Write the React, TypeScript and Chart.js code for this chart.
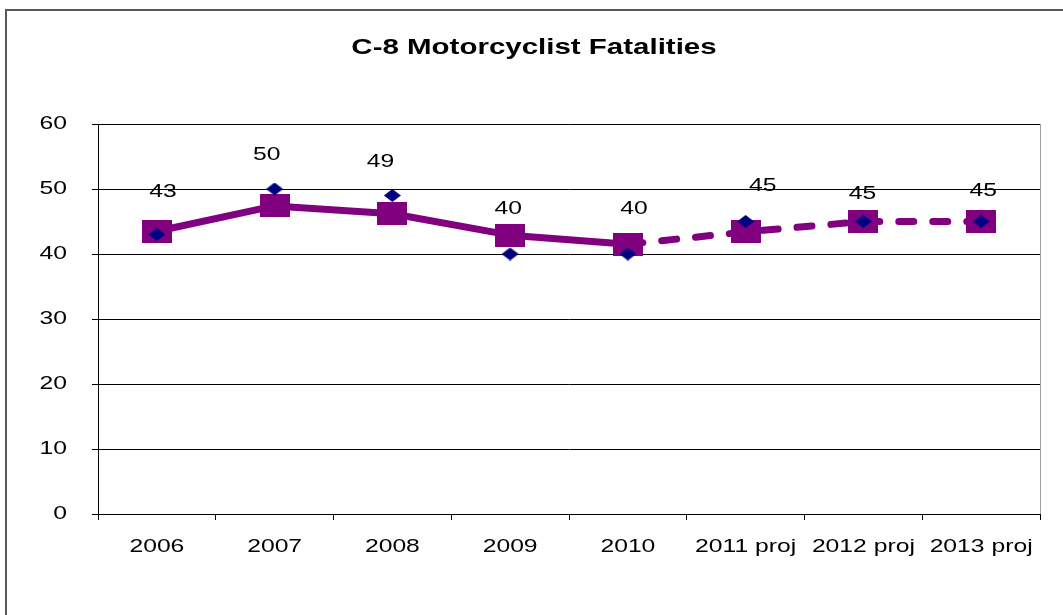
import React, { useEffect, useRef } from "react";
import { Chart, registerables } from "chart.js";

Chart.register(...registerables);

const TITLE = "C-8 Motorcyclist Fatalities";
const categories = ["2006", "2007", "2008", "2009", "2010", "2011 proj", "2012 proj", "2013 proj"];
const fatalities = [43, 50, 49, 40, 40, 45, 45, 45];
const averageLine = [43.5, 47.4, 46.2, 42.9, 41.5, 43.4, 45, 45];
const yTicks = [0, 10, 20, 30, 40, 50, 60];
const projectionStartIndex = 4; // segments starting at this index are dashed

// label nudges (style only): [dx, dy] in px from the diamond
const labelNudges: [number, number][] = [
  [6, -43], [-8, -34], [-12, -34], [-2, -45], [6, -45], [17, -36], [-1, -28], [2, -31],
];

const FONT_FAMILY = "'Liberation Sans', Arial, sans-serif";
const SX = 1.3;

function makeRect(w: number, h: number, color: string) {
  const c = document.createElement("canvas");
  c.width = w;
  c.height = h;
  const g = c.getContext("2d")!;
  g.fillStyle = color;
  g.fillRect(0, 0, w, h);
  return c;
}

function makeDiamond(w: number, h: number, color: string) {
  const c = document.createElement("canvas");
  c.width = w;
  c.height = h;
  const g = c.getContext("2d")!;
  g.fillStyle = color;
  g.beginPath();
  g.moveTo(w / 2, 0);
  g.lineTo(w, h / 2);
  g.lineTo(w / 2, h);
  g.lineTo(0, h / 2);
  g.closePath();
  g.fill();
  return c;
}

function drawStretched(
  ctx: CanvasRenderingContext2D,
  text: string,
  x: number,
  y: number,
  font: string,
  align: CanvasTextAlign,
  sx: number
) {
  ctx.save();
  ctx.translate(x, y);
  ctx.scale(sx, 1);
  ctx.font = font;
  ctx.fillStyle = "#000";
  ctx.textAlign = align;
  ctx.textBaseline = "middle";
  ctx.fillText(text, 0, 0);
  ctx.restore();
}

const textPlugin = {
  id: "excelText",
  afterDraw(chart: any) {
    const ctx: CanvasRenderingContext2D = chart.ctx;
    const area = chart.chartArea;
    const xs = chart.scales.x;
    const ys = chart.scales.y;
    const tickFont = `19px ${FONT_FAMILY}`;

    // plot area right border
    ctx.save();
    ctx.strokeStyle = "#a0a0a0";
    ctx.lineWidth = 1;
    ctx.beginPath();
    ctx.moveTo(Math.round(area.right) + 0.5, area.top);
    ctx.lineTo(Math.round(area.right) + 0.5, area.bottom);
    ctx.stroke();
    ctx.restore();

    // title
    drawStretched(ctx, TITLE, 534, 48, `bold 22px ${FONT_FAMILY}`, "center", 1.34);

    // x tick labels
    categories.forEach((lab, i) => {
      drawStretched(ctx, lab, xs.getPixelForValue(i), area.bottom + 33, tickFont, "center", SX);
    });

    // y tick labels
    yTicks.forEach((v) => {
      drawStretched(ctx, String(v), area.left - 31, ys.getPixelForValue(v), tickFont, "right", SX);
    });

    // data labels
    const meta = chart.getDatasetMeta(1);
    meta.data.forEach((el: any, i: number) => {
      const [dx, dy] = labelNudges[i] || [0, -36];
      drawStretched(ctx, String(fatalities[i]), el.x + dx, el.y + dy, tickFont, "center", SX);
    });
  },
};

export default function App() {
  const ref = useRef<HTMLCanvasElement | null>(null);

  useEffect(() => {
    if (!ref.current) return;
    const square = makeRect(30, 23, "#800080");
    const diamond = makeDiamond(17, 13, "#000080");

    const chart = new Chart(ref.current, {
      type: "line",
      data: {
        labels: categories,
        datasets: [
          {
            label: "Average",
            data: averageLine,
            borderColor: "#800080",
            backgroundColor: "#800080",
            borderWidth: 7,
            borderCapStyle: "round",
            borderJoinStyle: "round",
            pointStyle: square as any,
            pointRadius: 12,
            tension: 0,
            fill: false,
            order: 2,
            segment: {
              borderDash: (c: any) => (c.p0DataIndex >= projectionStartIndex ? [15, 19] : undefined),
            },
          },
          {
            label: "Fatalities",
            data: fatalities,
            showLine: false,
            borderColor: "#000080",
            backgroundColor: "#000080",
            pointStyle: diamond as any,
            pointRadius: 8,
            order: 1,
          },
        ],
      },
      options: {
        responsive: false,
        animation: false,
        events: [],
        layout: { padding: { top: 124, right: 23, bottom: 0, left: 0 } },
        plugins: {
          legend: { display: false },
          title: { display: false },
          tooltip: { enabled: false },
        },
        scales: {
          x: {
            type: "category",
            offset: true,
            grid: {
              offset: true,
              drawOnChartArea: false,
              drawTicks: true,
              tickLength: 6,
              color: "#000",
            },
            border: { color: "#000", width: 1 },
            ticks: { display: false },
            afterFit: (s: any) => {
              s.height = 101;
            },
          },
          y: {
            min: 0,
            max: 60,
            ticks: { display: false, stepSize: 10 },
            grid: { color: "#000", tickLength: 6, drawTicks: true },
            border: { color: "#000", width: 1 },
            afterFit: (s: any) => {
              s.width = 98;
            },
          },
        },
      },
      plugins: [textPlugin],
    });
    return () => chart.destroy();
  }, []);

  return (
    <div
      style={{
        position: "fixed",
        left: 0,
        top: 0,
        width: 1063,
        height: 615,
        overflow: "hidden",
        background: "#fff",
      }}
    >
      <div
        style={{
          position: "absolute",
          left: 5,
          top: 9,
          width: 1100,
          height: 700,
          border: "2px solid #585858",
        }}
      />
      <canvas ref={ref} width={1063} height={615} style={{ position: "absolute", left: 0, top: 0 }} />
    </div>
  );
}
